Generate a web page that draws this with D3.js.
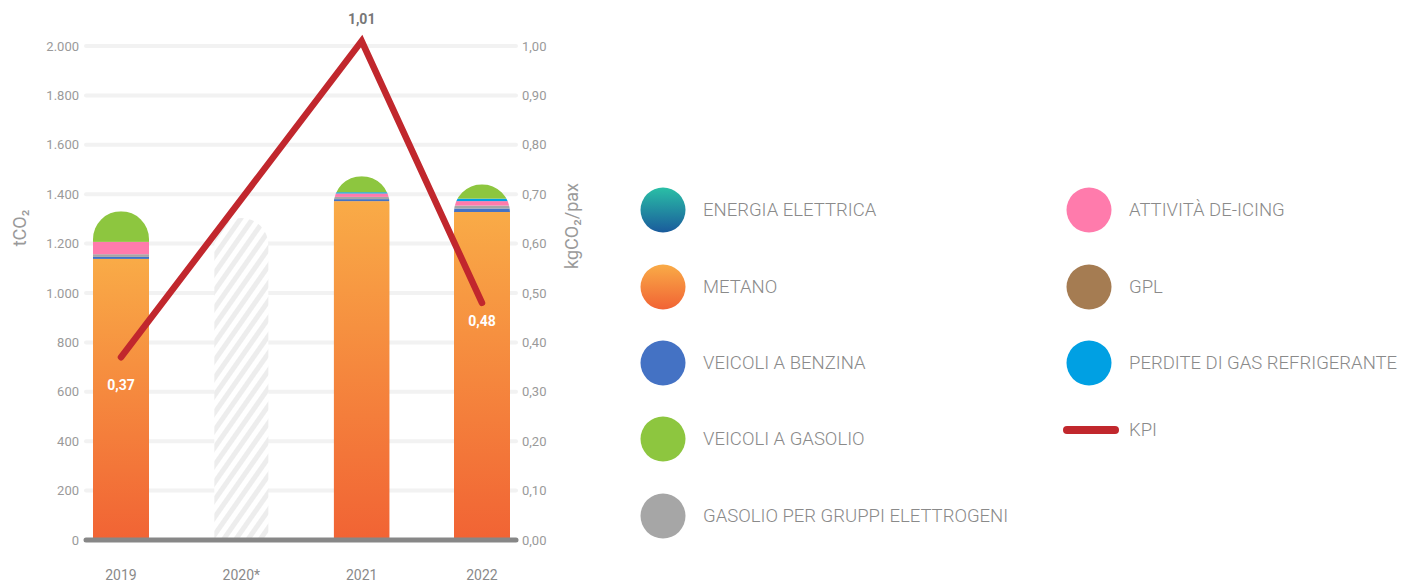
<!DOCTYPE html>
<html>
<head>
<meta charset="utf-8">
<script src="https://cdn.jsdelivr.net/npm/d3@7"></script>
<style>
  html, body { margin: 0; padding: 0; background: #ffffff; }
  svg { display: block; font-family: Roboto, "Open Sans", sans-serif; }
</style>
</head>
<body>
<svg id="chart" width="1401" height="583"></svg>
<script>
// Years on the x axis
const years = ["2019", "2020*", "2021", "2022"];

// Emission sources in stacking order (bottom to top), tCO2
const sources = ["metano", "benzina", "gruppi", "deicing", "refrigerante", "gasolio", "elettrica", "gpl"];
const metano       = [1138, null, 1372, 1328];
const benzina      = [8,    null, 8,    14];
const gruppi       = [11,   null, 9,    12];
const deicing      = [50,   null, 14,   18];
const refrigerante = [0,    null, 5,    10];
const gasolio      = [124,  null, 65,   58];
const elettrica    = [0,    null, 0,    0];
const gpl          = [0,    null, 0,    0];

// 2020 has no detailed breakdown: shown as a hatched placeholder
const placeholderYear = "2020*";
const placeholderTotal = 1304;

// KPI, kgCO2 per passenger
const kpiYears  = ["2019", "2021", "2022"];
const kpiValues = [0.37, 1.01, 0.48];

// Axis ticks
const leftTicks  = [0, 200, 400, 600, 800, 1000, 1200, 1400, 1600, 1800, 2000];
const rightTicks = [0, 0.1, 0.2, 0.3, 0.4, 0.5, 0.6, 0.7, 0.8, 0.9, 1.0];

// Legend entries
const legendLeft  = [
  { key: "elettrica", label: "ENERGIA ELETTRICA" },
  { key: "metano", label: "METANO" },
  { key: "benzina", label: "VEICOLI A BENZINA" },
  { key: "gasolio", label: "VEICOLI A GASOLIO" },
  { key: "gruppi", label: "GASOLIO PER GRUPPI ELETTROGENI" }
];
const legendRight = [
  { key: "deicing", label: "ATTIVITÀ DE-ICING" },
  { key: "gpl", label: "GPL" },
  { key: "refrigerante", label: "PERDITE DI GAS REFRIGERANTE" },
  { key: "kpi", label: "KPI" }
];

const seriesData = { metano, benzina, gruppi, deicing, refrigerante, gasolio, elettrica, gpl };

const fills = {
  metano: "url(#gradMetano)",
  elettrica: "url(#gradElettrica)",
  benzina: "#4472c4",
  gruppi: "#a6a6a6",
  deicing: "#ff7bac",
  refrigerante: "#00a0e3",
  gasolio: "#8dc63f",
  gpl: "#a57c52"
};
const kpiColor = "#c1272d";

const svg = d3.select("#chart");
const defs = svg.append("defs");

const gm = defs.append("linearGradient").attr("id", "gradMetano")
  .attr("x1", 0).attr("y1", 0).attr("x2", 0).attr("y2", 1);
gm.append("stop").attr("offset", "0%").attr("stop-color", "#f9ab47");
gm.append("stop").attr("offset", "100%").attr("stop-color", "#f16334");

const ge = defs.append("linearGradient").attr("id", "gradElettrica")
  .attr("x1", 0).attr("y1", 0).attr("x2", 0).attr("y2", 1);
ge.append("stop").attr("offset", "0%").attr("stop-color", "#2abfa6");
ge.append("stop").attr("offset", "100%").attr("stop-color", "#1a5b9c");

const hatch = defs.append("pattern").attr("id", "hatch")
  .attr("patternUnits", "userSpaceOnUse")
  .attr("width", 10).attr("height", 10)
  .attr("patternTransform", "rotate(35)");
hatch.append("rect").attr("width", 10).attr("height", 10).attr("fill", "#ffffff");
hatch.append("rect").attr("width", 5).attr("height", 10).attr("fill", "#ededed");

// Scales
const y = d3.scaleLinear().domain([0, 2000]).range([540, 46]);
const yR = d3.scaleLinear().domain([0, 1]).range([540, 46]);
const x = d3.scalePoint().domain(years).range([121, 482]);
const barW = 56;

const fmtLeft = v => d3.format(",")(v).replace(/,/g, ".");
const fmtRight = v => d3.format(".2f")(v).replace(".", ",");

// Gridlines
svg.append("g").selectAll("line").data(leftTicks.filter(d => d > 0)).join("line")
  .attr("x1", 86).attr("x2", 516)
  .attr("y1", d => y(d)).attr("y2", d => y(d))
  .attr("stroke", "#f2f2f2").attr("stroke-width", 4).attr("stroke-linecap", "round");

// Left axis
const axL = d3.axisLeft(y).tickValues(leftTicks).tickFormat(fmtLeft).tickSize(0).tickPadding(0);
const gL = svg.append("g").attr("transform", "translate(79,0)").call(axL);
gL.select(".domain").remove();
gL.selectAll("text").attr("font-size", 13).attr("fill", "#9a9a9a")
  .attr("font-family", "Roboto, sans-serif");

// Right axis
const axR = d3.axisRight(yR).tickValues(rightTicks).tickFormat(fmtRight).tickSize(0).tickPadding(0);
const gR = svg.append("g").attr("transform", "translate(522,0)").call(axR);
gR.select(".domain").remove();
gR.selectAll("text").attr("font-size", 13).attr("fill", "#9a9a9a")
  .attr("font-family", "Roboto, sans-serif");

// Axis titles
svg.append("text").attr("transform", "translate(26,228) rotate(-90)")
  .attr("text-anchor", "middle").attr("font-size", 18).attr("fill", "#9a9a9a")
  .text("tCO₂");
svg.append("text").attr("transform", "translate(578,226) rotate(-90)")
  .attr("text-anchor", "middle").attr("font-size", 18).attr("fill", "#9a9a9a")
  .text("kgCO₂/pax");

// Rounded-top bar outline
function roundedTop(cx, top, bottom, w) {
  const r = w / 2;
  const p = d3.path();
  p.moveTo(cx - r, bottom);
  p.lineTo(cx - r, top + r);
  p.arc(cx, top + r, r, Math.PI, 0);
  p.lineTo(cx + r, bottom);
  p.closePath();
  return p.toString();
}

// Hatched placeholder bar
svg.append("path")
  .attr("d", roundedTop(x(placeholderYear), y(placeholderTotal), y(0), barW - 2))
  .attr("fill", "url(#hatch)");

// Stacked bars
const rows = years.map((yr, i) => {
  const r = { year: yr };
  sources.forEach(s => r[s] = seriesData[s][i] || 0);
  return r;
}).filter(r => r.year !== placeholderYear);

const stack = d3.stack().keys(sources)(rows);

rows.forEach((r, i) => {
  const total = d3.sum(sources, s => r[s]);
  const cid = "clip" + i;
  defs.append("clipPath").attr("id", cid).append("path")
    .attr("d", roundedTop(x(r.year), y(total), y(0) + 1, barW));
  const g = svg.append("g").attr("clip-path", `url(#${cid})`);
  stack.forEach(layer => {
    const d = layer[i];
    if (d[1] - d[0] <= 0) return;
    g.append("rect")
      .attr("x", x(r.year) - barW / 2).attr("width", barW)
      .attr("y", y(d[1])).attr("height", y(d[0]) - y(d[1]) + (layer.key === "metano" ? 1 : 0))
      .attr("fill", fills[layer.key]);
  });
});

// Baseline
svg.append("line").attr("x1", 86).attr("x2", 516).attr("y1", y(0)).attr("y2", y(0))
  .attr("stroke", "#878787").attr("stroke-width", 5).attr("stroke-linecap", "round");

// X labels
svg.append("g").selectAll("text").data(years).join("text")
  .attr("x", d => x(d)).attr("y", 580).attr("text-anchor", "middle")
  .attr("font-size", 14).attr("fill", "#8a8a8a").text(d => d);

// KPI line
const kpi = kpiYears.map((yr, i) => ({ yr, v: kpiValues[i] }));
svg.append("path").datum(kpi)
  .attr("d", d3.line().x(d => x(d.yr)).y(d => yR(d.v)))
  .attr("fill", "none").attr("stroke", kpiColor).attr("stroke-width", 6.5)
  .attr("stroke-linecap", "round").attr("stroke-linejoin", "miter").attr("stroke-miterlimit", 10);

// KPI labels
const kpiLabelPos = [
  { dy: 33, color: "#ffffff" },
  { dy: -17, color: "#777777" },
  { dy: 23, color: "#ffffff" }
];
svg.append("g").selectAll("text").data(kpi).join("text")
  .attr("x", d => x(d.yr)).attr("y", (d, i) => yR(d.v) + kpiLabelPos[i].dy)
  .attr("text-anchor", "middle").attr("font-size", 14).attr("font-weight", "bold")
  .attr("fill", (d, i) => kpiLabelPos[i].color)
  .text(d => fmtRight(d.v));

// Legend
const legendRowY = [210, 287, 363, 439, 516];
const legendFont = 18.5;
function drawLegend(items, cx, tx) {
  const g = svg.append("g");
  items.forEach((it, i) => {
    const yy = legendRowY[i];
    if (it.key === "kpi") {
      g.append("line").attr("x1", cx - 22).attr("x2", cx + 26).attr("y1", yy - 9).attr("y2", yy - 9)
        .attr("stroke", kpiColor).attr("stroke-width", 8).attr("stroke-linecap", "round");
      g.append("text").attr("x", tx).attr("y", yy - 9).attr("dy", "0.35em")
        .attr("font-size", legendFont).attr("font-weight", 300).attr("fill", "#8a8a8a").text(it.label);
      return;
    }
    g.append("circle").attr("cx", cx).attr("cy", yy).attr("r", 22.5)
      .attr("fill", fills[it.key]);
    g.append("text").attr("x", tx).attr("y", yy).attr("dy", "0.35em")
      .attr("font-size", legendFont).attr("font-weight", 300).attr("fill", "#8a8a8a").text(it.label);
  });
}
drawLegend(legendLeft, 663, 703);
drawLegend(legendRight, 1089, 1129);
</script>
</body>
</html>
